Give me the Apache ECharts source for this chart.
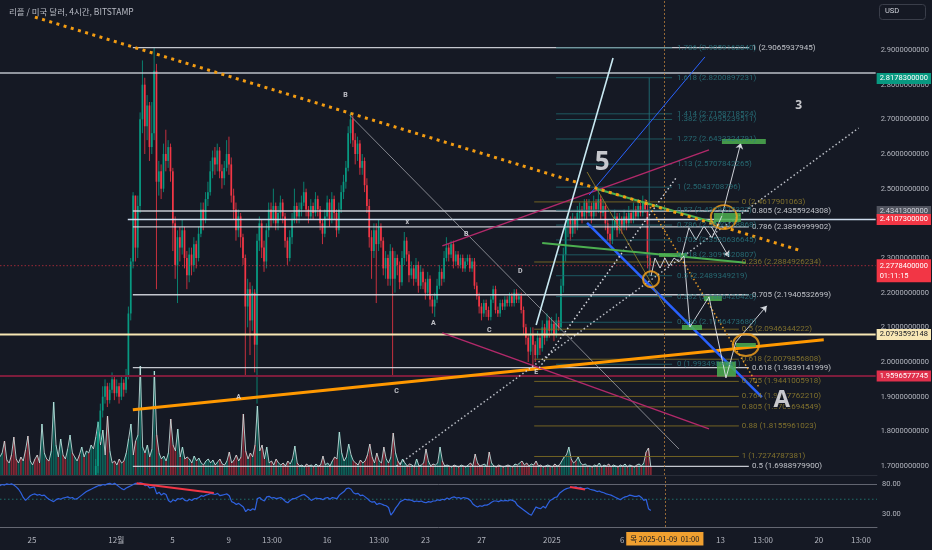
<!DOCTYPE html>
<html><head><meta charset="utf-8">
<script src="https://cdn.jsdelivr.net/npm/echarts@6/dist/echarts.min.js"></script>
<style>html,body{margin:0;padding:0;background:#151924;}#c{width:932px;height:550px;}</style>
</head><body><div id="c"></div>
<script>
// ---------- DATA ----------
// time unit: days since 2024-11-25 00:00 (KST); 4h candles
const firstCandleDay = -2.2917;      // 2024-11-22 17:00
const candleStepDays = 1 / 6;
const firstOpen = 1.50;
const closes = [
1.52,1.55,1.50,1.47,1.51,1.49, 1.46,1.43,1.45,1.41,1.44,1.42, 1.40,1.43,1.47,1.44,1.41,1.39,
1.42,1.45,1.40,1.37,1.41,1.43, 1.46,1.44,1.48,1.45,1.43,1.46, 1.50,1.48,1.52,1.55,1.53,1.57,
1.55,1.58,1.56,1.60,1.64,1.70, 1.80,1.86,
1.90,1.93,1.89,1.92,1.95,1.91, 1.93,1.90,1.94,1.92,1.96,2.14, 2.29,2.48,2.33,2.45,2.70,2.80,
2.68,2.74,2.62,2.66,2.84,2.52, 2.55,2.50,2.60,2.58,2.62,2.55, 2.40,2.28,2.36,2.33,2.38,2.30,
2.25,2.31,2.28,2.34,2.30,2.37, 2.44,2.41,2.47,2.49,2.55,2.59, 2.57,2.61,2.55,2.53,2.56,2.60,
2.57,2.48,2.44,2.38,2.42,2.36, 2.30,2.16,2.21,2.12,2.20,2.05, 2.35,2.40,2.33,2.29,2.38,2.44,
2.41,2.45,2.40,2.43,2.46,2.42, 2.35,2.30,2.36,2.41,2.45,2.42, 2.44,2.46,2.49,2.44,2.42,2.45,
2.43,2.47,2.44,2.40,2.37,2.42, 2.46,2.41,2.47,2.43,2.38,2.44, 2.49,2.52,2.56,2.66,2.70,2.64,
2.60,2.63,2.56,2.58,2.51,2.45, 2.36,2.32,2.38,2.34,2.39,2.35, 2.27,2.30,2.24,2.32,2.24,2.30,
2.28,2.23,2.30,2.35,2.31,2.25, 2.27,2.24,2.28,2.22,2.26,2.23, 2.20,2.24,2.18,2.16,2.18,2.22,
2.26,2.24,2.30,2.33,2.31,2.34, 2.29,2.31,2.28,2.30,2.27,2.29, 2.30,2.27,2.29,2.22,2.19,2.16,
2.14,2.17,2.15,2.13,2.18,2.21, 2.15,2.14,2.17,2.16,2.18,2.17, 2.19,2.17,2.20,2.18,2.19,2.15,
2.10,2.07,2.03,2.08,2.05,2.02, 2.07,2.04,2.10,2.07,2.12,2.09, 2.11,2.08,2.12,2.10,2.22,2.31,
2.39,2.41,2.37,2.41,2.39,2.43, 2.44,2.42,2.46,2.43,2.45,2.42, 2.46,2.44,2.47,2.43,2.45,2.40,
2.37,2.35,2.39,2.42,2.38,2.41, 2.39,2.42,2.40,2.43,2.41,2.44, 2.42,2.45,2.43,2.46,2.44,2.30,
2.2778];
const highs = [
1.55,1.57,1.57,1.52,1.53,1.53, 1.51,1.48,1.47,1.47,1.46,1.46, 1.44,1.45,1.49,1.49,1.46,1.43,
1.44,1.47,1.47,1.42,1.43,1.46, 1.48,1.48,1.50,1.50,1.47,1.48, 1.52,1.52,1.54,1.57,1.57,1.59,
1.60,1.60,1.60,1.62,1.66,1.72, 1.83,1.88,
1.93,1.95,1.94,1.94,1.97,1.96, 1.95,1.94,1.96,1.95,1.98,2.16, 2.30,2.49,2.47,2.48,2.72,2.87,
2.82,2.77,2.75,2.75,2.906,2.86, 2.58,2.57,2.63,2.67,2.64,2.63, 2.56,2.42,2.38,2.39,2.41,2.39,
2.32,2.33,2.33,2.36,2.35,2.39, 2.46,2.46,2.49,2.52,2.58,2.61, 2.62,2.63,2.62,2.57,2.58,2.64,
2.65,2.59,2.50,2.46,2.44,2.43, 2.37,2.31,2.24,2.23,2.22,2.21, 2.37,2.42,2.41,2.35,2.40,2.46,
2.46,2.50,2.46,2.45,2.48,2.47, 2.43,2.36,2.38,2.43,2.50,2.46, 2.46,2.48,2.52,2.50,2.45,2.47,
2.46,2.49,2.48,2.45,2.41,2.44, 2.48,2.47,2.49,2.48,2.44,2.46, 2.51,2.54,2.58,2.68,2.72,2.71,
2.66,2.65,2.64,2.60,2.59,2.53, 2.47,2.38,2.40,2.40,2.41,2.40, 2.36,2.32,2.31,2.34,2.33,2.32,
2.31,2.29,2.32,2.375,2.36,2.32, 2.29,2.28,2.30,2.29,2.28,2.27, 2.24,2.26,2.25,2.19,2.20,2.24,
2.28,2.27,2.32,2.36,2.34,2.35, 2.35,2.32,2.32,2.31,2.31,2.30, 2.31,2.31,2.30,2.30,2.23,2.20,
2.17,2.18,2.18,2.16,2.19,2.22, 2.22,2.16,2.18,2.18,2.19,2.19, 2.20,2.20,2.21,2.21,2.20,2.20,
2.16,2.11,2.08,2.10,2.10,2.06, 2.09,2.08,2.12,2.11,2.14,2.13, 2.13,2.12,2.14,2.13,2.24,2.33,
2.41,2.43,2.42,2.43,2.42,2.45, 2.46,2.45,2.47,2.47,2.47,2.46, 2.48,2.47,2.50,2.48,2.47,2.46,
2.41,2.39,2.41,2.44,2.43,2.43, 2.42,2.44,2.43,2.45,2.44,2.46, 2.45,2.47,2.46,2.48,2.47,2.46,
2.31];
const lows = [
1.48,1.50,1.48,1.45,1.45,1.47, 1.44,1.41,1.41,1.39,1.39,1.40, 1.38,1.38,1.41,1.42,1.39,1.37,
1.37,1.40,1.38,1.34,1.35,1.39, 1.41,1.42,1.42,1.43,1.41,1.41, 1.44,1.46,1.46,1.50,1.51,1.51,
1.53,1.53,1.54,1.54,1.58,1.62, 1.68,1.77,
1.84,1.88,1.87,1.88,1.91,1.89, 1.90,1.88,1.89,1.90,1.91,1.95, 2.12,2.27,2.29,2.30,2.43,2.66,
2.60,2.64,2.58,2.60,2.64,2.21, 2.48,2.47,2.49,2.55,2.56,2.52, 2.32,2.24,2.17,2.29,2.31,2.27,
2.21,2.23,2.25,2.26,2.27,2.29, 2.36,2.38,2.40,2.45,2.48,2.53, 2.54,2.55,2.53,2.50,2.51,2.55,
2.54,2.46,2.41,2.35,2.36,2.33, 2.28,1.96,2.10,2.02,2.09,1.97, 1.88,2.32,2.30,2.26,2.27,2.36,
2.39,2.40,2.38,2.38,2.41,2.40, 2.33,2.28,2.29,2.34,2.40,2.40, 2.40,2.42,2.45,2.42,2.40,2.41,
2.41,2.42,2.42,2.38,2.34,2.36, 2.41,2.39,2.40,2.41,2.36,2.37, 2.43,2.47,2.50,2.55,2.63,2.62,
2.57,2.58,2.54,2.54,2.49,2.43, 2.33,2.24,2.30,2.17,2.32,2.33, 2.25,2.24,2.22,2.22,1.957,2.20,
2.25,2.21,2.22,2.28,2.29,2.23, 2.24,2.22,2.23,2.20,2.21,2.21, 2.18,2.19,2.16,2.14,2.13,2.17,
2.21,2.22,2.23,2.29,2.29,2.30, 2.27,2.28,2.27,2.27,2.26,2.26, 2.28,2.26,2.26,2.21,2.18,2.14,
2.12,2.13,2.13,2.12,2.12,2.17, 2.14,2.13,2.13,2.15,2.15,2.16, 2.16,2.16,2.16,2.17,2.17,2.14,
2.08,2.05,2.00,2.02,1.99,2.00, 2.01,2.02,2.03,2.05,2.06,2.07, 2.08,2.06,2.07,2.09,2.09,2.20,
2.29,2.36,2.35,2.36,2.37,2.38, 2.41,2.40,2.41,2.41,2.42,2.40, 2.41,2.42,2.43,2.41,2.42,2.38,
2.35,2.33,2.34,2.38,2.36,2.37, 2.37,2.38,2.38,2.39,2.40,2.40, 2.41,2.41,2.42,2.42,2.43,2.27,
2.26];
const volumes = [
18,22,34,15,12,20, 38,16,12,18,14,25, 39,14,10,16,20,12, 51,22,16,14,24,73, 30,18,36,20,16,26,
40,22,18,14,20,28, 18,24,22,30,26,38, 53,30,45,20,59,24, 12,14,10,16,12,14, 22,36,51,20,34,40,
109,28,22,30,18,26, 104,40,22,16,19,14, 22,56,30,24,46,18, 28,16,18,16,12,19, 14,17,12,10,14,16,
12,15,10,13,16,11, 10,14,23,12,15,20, 14,18,61,24,16,22, 18,30,69,24,30,16, 28,12,14,10,16,12,
10,12,9,14,11,16, 29,12,9,10,8,11, 9,10,8,11,9,10, 19,10,12,9,14,18, 16,43,22,14,18,31,
20,14,12,10,15,12, 14,20,31,18,12,22, 14,12,28,16,12,18, 42,22,14,10,16,12, 9,11,10,8,16,9,
10,12,26,14,9,11, 10,12,28,14,9,10, 9,8,10,9,8,10, 9,8,10,12,9,21, 12,9,10,11,8,23,
12,9,8,10,9,8, 9,10,9,8,11,10, 12,14,10,12,9,11, 10,14,9,10,8,9, 10,9,8,11,9,10,
14,18,20,28,16,12, 14,18,12,10,11,9, 9,8,10,9,12,8, 10,9,11,8,10,9, 8,10,9,11,8,10,
9,8,10,11,9,12, 23,27,8];
const rsi = [
78,80,79,81,80,81, 79,76,72,66,58,53, 57,61,63,64,62,63, 61,62,58,55,53,51, 54,56,55,57,58,59,
57,58,55,56,59,62, 65,68,70,72,74,76, 78,78,80,79,81,82, 80,82,79,76,73,71, 74,76,78,80,82,81,
83,82,78,79,74,75, 76,64,67,62,65,63, 53,50,54,52,56,55, 57,53,52,55,53,56, 56,58,61,60,62,63,
65,64,63,65,61,62, 63,64,61,51,49,46, 48,45,42,34,38,36, 39,37,56,58,54,52, 59,60,57,58,56,57,
58,55,51,49,53,56, 56,58,60,62,63,60, 57,53,55,57,56,56, 54,57,58,55,58,57, 56,62,65,68,73,74,
72,66,64,65,61,62, 59,56,52,50,51,46, 48,47,45,44,41,28, 33,40,45,51,53,55, 54,54,53,51,52,51,
52,50,49,51,50,52, 52,54,53,55,54,57, 55,58,59,57,58,56, 58,57,56,53,47,44, 42,44,43,45,45,47,
50,52,52,51,53,52, 53,52,54,53,51,45, 42,39,36,33,30,28, 35,42,40,39,43,40, 47,53,55,58,59,65,
68,71,73,74,75,75, 76,74,75,73,73,74, 72,71,70,68,69,67, 66,64,63,62,60,58, 56,54,57,59,60,62,
61,60,60,61,58,53, 55,39,36];

const priceTicks = [1.7,1.8,1.9,2.0,2.1,2.2,2.3,2.4,2.5,2.6,2.7,2.8,2.9];
const rsiTicks = [30, 80];
const xTickDays   = [0, 6, 10, 14, 17.08, 21, 24.70, 28, 32, 37, 42, 49, 52.03, 56, 59.0];
const xTickLabels = ['25','12월','5','9','13:00','16','13:00','23','27','2025','6','13','13:00','20','13:00'];
const crosshairDay = 45.042;   // 2025-01-09 01:00
const crosshairText = '목 2025-01-09  01:00';

// drawings: [day, price]
const trendOrangeDotted = [[0.21, 2.995], [54.66, 2.323]];
const trendOrangeSolid  = [[7.19, 1.862], [56.44, 2.064]];
const impulseLine       = [[35.94, 2.107], [41.42, 2.877]];
const blueThick         = [[39.57, 2.401], [52.03, 1.899]];
const blueThin          = [[39.72, 2.482], [47.97, 2.880]];
const magentaUpper      = [[29.25, 2.335], [48.26, 2.612]];
const magentaLower      = [[29.25, 2.084], [48.26, 1.807]];
const grayFromB         = [[22.63, 2.713], [46.12, 1.749]];
const dottedLong        = [[25.98, 1.700], [58.93, 2.675]];
const dottedSteep       = [[36.16, 1.983], [45.91, 2.531]];
const orangeSmallDotted = [[43.77, 2.467], [51.81, 1.928]];
const oliveThin         = [[39.57, 2.548], [45.05, 2.164]];
const greenLine         = [[36.37, 2.343], [50.89, 2.286]];
const greenFromPeak     = [[40.28, 2.499], [48.75, 2.401]];
const tealVertical      = [[44.0, 2.82], [44.0, 2.25]];
const projPathLow  = [[44.13,2.248],[44.41,2.300],[44.77,2.271],[45.12,2.300],[45.41,2.277],[45.77,2.300],[46.12,2.289],[46.48,2.306],[46.90,2.101],[48.26,2.188],[49.47,1.954],[50.18,2.058]];
const projPathHigh = [[46.33,2.309],[46.83,2.387],[47.33,2.352],[47.90,2.392],[48.47,2.358],[49.18,2.421]];
const projArrows = [
  [[50.18,2.058],[52.38,2.162]],
  [[49.18,2.421],[50.53,2.632]],
  [[48.40,2.392],[49.68,2.303]]
];
// [day1, price1, day2, price2]
const projBoxes = [
  [49.18,2.6433,52.31,2.6290],[48.61,2.4298,50.53,2.4038],[44.70,2.3144,46.69,2.3029],
  [47.90,2.1904,49.18,2.1760],[46.33,2.1067,47.76,2.0923],[48.83,2.0009,50.18,1.9576],
  [50.18,2.0548,51.60,2.0433]
];
const circlePoints = [[49.32,2.418],[44.13,2.239],[50.89,2.049]];
const circleSizes  = [[26,24],[16,16],[26,22]];

const waveText = ['B','x','B','A','C','D','E','C','A'];
const wavePos  = [[22.35,2.770],[26.76,2.404],[30.96,2.369],[28.61,2.1125],[32.6,2.092],[34.8,2.2625],[35.94,1.9712],[25.98,1.9164],[14.73,1.899]];
const bigText = ['5','3','A'];
const bigPos  = [[40.64,2.574],[54.66,2.741],[53.45,1.890]];
const bigSize = [26, 12, 24];

const whiteFibRatios = ['1','0.805','0.786','0.705','0.618','0.5'];
const whiteFibLevels = [2.9065937945,2.4355924308,2.3896999902,2.1940532699,1.9839141999,1.6988979900];
const whiteFibSpan = [7.19, 51.10], whiteFibLabelDay = 51.32;
const oliveFibRatios = ['0','0.236','0.5','0.618','0.705','0.764','0.805','0.88','1'];
const oliveFibLevels = [2.4617901063,2.2884926234,2.0946344222,2.0079856808,1.9441005918,1.9007762210,1.8706694549,1.8155961023,1.7274787381];
const oliveFibSpan = [35.80, 50.39], oliveFibLabelDay = 50.60;
const tealFibRatios = ['1.786','1.618','1.414','1.382','1.272','1.13','1','0.87','0.786','0.702','0.618','0.5','0.382','0.236','0'];
const tealFibLevels = [2.9059162040,2.8200897231,2.7158718524,2.6995239511,2.6433324791,2.5707842265,2.5043708796,2.4379575327,2.3950418868,2.3520636645,2.3091420807,2.2489349219,2.1886426420,2.1146473680,1.9934989641];
const tealFibSpan = [37.36, 45.63], tealFibLabelDay = 45.98;

// horizontal rays [price, startDay]
const hLines = [[2.8337, null], [2.41073, 6.83], [2.0793592148, null], [1.9596577745, null]];
const currentPrice = 2.27784, countdown = '01:11:15';
// price-scale tags
const tagPrices = [2.81783, 2.43413, 2.41073, 2.0793592148, 1.9596577745];
const tagTexts  = ['2.8178300000','2.4341300000','2.4107300000','2.0793592148','1.9596577745'];
const tagColors = ['#089981','#50535e','#f23645','#f7e7b4','#e0304c'];
const tagTextColors = ['#fff','#d1d4dc','#fff','#131722','#fff'];
const rsiRedLines = [[[7.44,82.2],[12.94,65.6]],[[38.29,75.6],[39.36,71.7]]];
const rsiMidLevel = 55, rsiUpper = 80;

// ---------- CHART ----------
const X_MIN = -2.278, X_MAX = 60.14;
const N = Math.min(closes.length, highs.length, lows.length);
const candleData = [], volData = [], volLine = [], rsiData = [];
for (let i = 0; i < N; i++) {
  const x = firstCandleDay + i * candleStepDays;
  const o = i === 0 ? firstOpen : closes[i - 1], c = closes[i];
  candleData.push([x, o, c, Math.min(lows[i], o, c), Math.max(highs[i], o, c)]);
  if (i < volumes.length) { volData.push([x, volumes[i], c >= o ? 1 : 0]); volLine.push([x, volumes[i]]); }
  if (i < rsi.length) rsiData.push([x, rsi[i]]);
}
const FONT = "Roboto, 'Noto Sans', sans-serif";
const series = [];
function seg(data, color, width, type, z, extra) {
  series.push(Object.assign({type:'line', xAxisIndex:0, yAxisIndex:0, data, symbol:'none', silent:true,
    animation:false, z: z || 4, lineStyle:{color, width, type: type || 'solid'}}, extra || {}));
}
function texts(points, labels, labelStyle, z) {
  series.push({type:'scatter', xAxisIndex:0, yAxisIndex:0, symbolSize:0, silent:true, animation:false, z: z || 8,
    data: points.map((p, i) => ({value:[p[0], p[1]], name: labels[i],
      label: Object.assign({}, labelStyle.perItem ? labelStyle.perItem(i) : {})})),
    label: Object.assign({show:true, formatter: p => p.name, fontFamily: FONT}, labelStyle.base)});
}

// volume
series.push({type:'custom', xAxisIndex:1, yAxisIndex:1, data: volData, silent:true, animation:false, z:1, clip:true,
  renderItem(params, api) {
    const x = api.value(0), v = api.value(1), up = api.value(2) === 1;
    const p0 = api.coord([x, 0]), p1 = api.coord([x, v]);
    return {type:'rect', shape:{x:p0[0]-0.9, y:p1[1], width:1.8, height:p0[1]-p1[1]},
      style:{fill: up ? 'rgba(8,153,129,0.55)' : 'rgba(242,54,69,0.5)'}};
  }});
series.push({type:'line', xAxisIndex:1, yAxisIndex:1, data: volLine, symbol:'none', silent:true, animation:false, z:2,
  lineStyle:{color:'rgba(200,228,226,0.85)', width:1}});

// candles
series.push({type:'custom', xAxisIndex:0, yAxisIndex:0, data: candleData, silent:true, animation:false, z:3, clip:true,
  encode:{x:0, y:[1,2,3,4]},
  renderItem(params, api) {
    const x = api.value(0), o = api.value(1), c = api.value(2), l = api.value(3), h = api.value(4);
    const pH = api.coord([x, h]), pL = api.coord([x, l]), pO = api.coord([x, o]), pC = api.coord([x, c]);
    const col = c >= o ? '#089981' : '#f23645';
    const top = Math.min(pO[1], pC[1]), bh = Math.max(Math.abs(pO[1] - pC[1]), 0.8);
    return {type:'group', children:[
      {type:'line', shape:{x1:pH[0], y1:pH[1], x2:pL[0], y2:pL[1]}, style:{stroke:col, lineWidth:0.8}},
      {type:'rect', shape:{x:pO[0]-0.85, y:top, width:1.7, height:bh}, style:{fill:col}}
    ]};
  }});

// fib sets
whiteFibLevels.forEach(v => seg([[whiteFibSpan[0], v],[whiteFibSpan[1], v]], 'rgba(215,218,226,0.9)', 1.3, 'solid', 4));
oliveFibLevels.forEach(v => seg([[oliveFibSpan[0], v],[oliveFibSpan[1], v]], 'rgba(130,112,35,0.85)', 1, 'solid', 4));
tealFibLevels.forEach(v => seg([[tealFibSpan[0], v],[tealFibSpan[1], v]], 'rgba(32,100,108,0.85)', 1, 'solid', 4));
seg(tealVertical, 'rgba(32,110,118,0.9)', 1, 'solid', 4);

// horizontal rays
hLines.forEach((h, i) => {
  const col = ['rgba(205,209,218,0.9)','rgba(215,230,248,0.95)','#f7e7b4','#7d1d3c'][i];
  const w = [1.5, 1.5, 2, 2][i];
  seg([[h[1] === null ? X_MIN : h[1], h[0]], [X_MAX, h[0]]], col, w, 'solid', 4);
});
seg([[X_MIN, currentPrice],[X_MAX, currentPrice]], 'rgba(242,54,69,0.6)', 1, [1.5, 2], 4);

// trend lines
seg(trendOrangeSolid, '#ff9800', 3, 'solid', 5, {
  markLine:{silent:true, symbol:'none', animation:false, precision:10,
    data: tagPrices.map((p, i) => ({yAxis:p, lineStyle:{width:0, color:'transparent'},
      label:{show:true, position:'end', distance:1, formatter: tagTexts[i], color: tagTextColors[i],
        backgroundColor: tagColors[i], padding:[2,3,1,3], fontSize:7.5, fontFamily:FONT}})).concat([
      {yAxis: currentPrice, lineStyle:{width:0, color:'transparent'},
        label:{show:true, position:'end', distance:1, offset:[0, 5], formatter: currentPrice.toFixed(10) + '\n' + countdown,
          color:'#fff', backgroundColor:'#f23645', padding:[2,3,1,3], fontSize:7.5, lineHeight:10, fontFamily:FONT}},
      {xAxis: crosshairDay, lineStyle:{color:'rgba(190,130,60,0.75)', width:1, type:[2,2]}, label:{show:false}}
    ])}
});
seg(trendOrangeDotted, '#f39c12', 3, [3, 4.5], 6);
seg(grayFromB, 'rgba(190,192,198,0.65)', 1, 'solid', 4);
seg(magentaUpper, '#b2296a', 1.5, 'solid', 5);
seg(magentaLower, '#b2296a', 1.5, 'solid', 5);
seg(impulseLine, '#c9e9f2', 1.6, 'solid', 5);
seg(blueThin, '#2962ff', 1, 'solid', 5);
seg(blueThick, '#2962ff', 2.5, 'solid', 5);
seg(dottedLong, 'rgba(215,218,226,0.85)', 1.5, [1.5, 2.5], 5);
seg(dottedSteep, 'rgba(230,232,238,0.9)', 1.5, [1.5, 2.5], 5);
seg(oliveThin, 'rgba(140,120,40,0.9)', 1, 'solid', 5);
seg(orangeSmallDotted, '#e69a28', 1.5, [1.5, 2.5], 5);
seg(greenLine, '#4caf50', 2, 'solid', 5);
seg(greenFromPeak, '#4caf50', 2, 'solid', 5);

// projection boxes
series.push({type:'custom', xAxisIndex:0, yAxisIndex:0, data: projBoxes, silent:true, animation:false, z:6,
  renderItem(params, api) {
    const a = api.coord([api.value(0), api.value(1)]), b = api.coord([api.value(2), api.value(3)]);
    return {type:'rect', shape:{x:a[0], y:a[1], width:b[0]-a[0], height:b[1]-a[1]}, style:{fill:'rgba(76,175,80,0.85)'}};
  }});
// projection paths
seg(projPathLow, 'rgba(225,228,235,0.9)', 1, 'solid', 7);
seg(projPathHigh, 'rgba(225,228,235,0.9)', 1, 'solid', 7, {
  markLine:{silent:true, animation:false, symbol:['none','arrow'], symbolSize:6,
    lineStyle:{color:'rgba(225,228,235,0.9)', width:1, type:'solid'}, label:{show:false},
    data: projArrows.map(a => [{coord:a[0]},{coord:a[1]}])}
});
// circles
series.push({type:'scatter', xAxisIndex:0, yAxisIndex:0, silent:true, animation:false, z:8,
  data: circlePoints.map((p, i) => ({value:p, symbolSize: circleSizes[i]})),
  itemStyle:{color:'rgba(0,0,0,0)', borderColor:'#f7a21b', borderWidth:2}});

// labels
texts(whiteFibLevels.map(v => [whiteFibLabelDay, v]), whiteFibRatios.map((r, i) => r + ' (' + whiteFibLevels[i].toFixed(10) + ')'),
  {base:{position:'right', distance:0, color:'#e6e8ee', fontSize:8}});
texts(oliveFibLevels.map(v => [oliveFibLabelDay, v]), oliveFibRatios.map((r, i) => r + ' (' + oliveFibLevels[i].toFixed(10) + ')'),
  {base:{position:'right', distance:0, color:'#9a8630', fontSize:8}});
texts(tealFibLevels.map(v => [tealFibLabelDay, v]), tealFibRatios.map((r, i) => r + ' (' + tealFibLevels[i].toFixed(10) + ')'),
  {base:{position:'right', distance:0, color:'#2a7c84', fontSize:8}});
texts(wavePos, waveText, {base:{position:'inside', color:'#e8e9ee', fontSize:7, fontWeight:'bold'}});
texts(bigPos, bigText, {base:{position:'inside', color:'#f2f3f6', fontWeight:'bold', fontFamily:"'Open Sans', sans-serif"},
  perItem: i => ({fontSize: bigSize[i], textBorderColor: '#131722', textBorderWidth: i === 2 ? 2 : 0})});

// RSI
series.push({type:'line', xAxisIndex:2, yAxisIndex:2, data:[[X_MIN, rsiUpper],[X_MAX, rsiUpper]], symbol:'none', silent:true, animation:false,
  lineStyle:{color:'rgba(120,123,134,0.8)', width:1}});
series.push({type:'line', xAxisIndex:2, yAxisIndex:2, data:[[X_MIN, rsiMidLevel],[X_MAX, rsiMidLevel]], symbol:'none', silent:true, animation:false,
  lineStyle:{color:'rgba(38,166,154,0.6)', width:1, type:[1.5,2.5]}});
rsiRedLines.forEach(l => series.push({type:'line', xAxisIndex:2, yAxisIndex:2, data:l, symbol:'none', silent:true, animation:false, z:6,
  lineStyle:{color:'#f23645', width:2}}));
series.push({type:'line', xAxisIndex:2, yAxisIndex:2, data: rsiData, symbol:'none', silent:true, animation:false, z:5,
  lineStyle:{color:'#2f62e0', width:1.2},
  markLine:{silent:true, symbol:'none', animation:false,
    data:[{xAxis: crosshairDay, lineStyle:{color:'rgba(190,130,60,0.75)', width:1, type:[2,2]},
      label:{show:true, position:'start', distance:5, formatter: crosshairText, color:'#131722', backgroundColor:'#f0a030',
        padding:[3,4,3,4], fontSize:7.5, fontFamily:"'Noto Sans CJK KR', sans-serif"}}]}});

const axisText = {color:'#b2b5be', fontSize:7.5, fontFamily:FONT};
const option = {
  backgroundColor:'#151924',
  animation:false,
  title:{text:'리플 / 미국 달러, 4시간, BITSTAMP', left:4, top:3,
    textStyle:{color:'#b8bbc4', fontSize:8.5, fontWeight:'normal', fontFamily:"'Noto Sans CJK KR', sans-serif"}},
  grid:[
    {left:0, right:55, top:0, height:475},
    {left:0, right:55, top:360, height:115},
    {left:0, right:55, top:477, height:50}
  ],
  xAxis:[
    {gridIndex:0, type:'value', min:X_MIN, max:X_MAX, show:false},
    {gridIndex:1, type:'value', min:X_MIN, max:X_MAX, axisLabel:{show:false}, axisTick:{show:false}, splitLine:{show:false},
      axisLine:{show:true, lineStyle:{color:'#2a2e39', width:1}}},
    {gridIndex:2, type:'value', min:X_MIN, max:X_MAX, splitLine:{show:false}, axisTick:{show:false},
      axisLine:{show:true, lineStyle:{color:'rgba(120,123,134,0.8)', width:1}},
      axisLabel:Object.assign({customValues: xTickDays, margin:9, fontSize:8,
        formatter: v => { const k = xTickDays.findIndex(d => Math.abs(d - v) < 1e-6); return k >= 0 ? xTickLabels[k] : ''; }}, {color:'#b2b5be', fontFamily:"'Noto Sans CJK KR', sans-serif"})}
  ],
  yAxis:[
    {gridIndex:0, type:'value', position:'right', min:1.67404, max:3.04423, splitLine:{show:false}, axisLine:{show:false},
      axisTick:{show:false}, axisLabel:Object.assign({customValues: priceTicks, margin:5, formatter: v => v.toFixed(10)}, axisText)},
    {gridIndex:1, type:'value', min:0, max:115, show:false},
    {gridIndex:2, type:'value', position:'right', min:7.97, max:92.7, splitLine:{show:false}, axisLine:{show:false},
      axisTick:{show:false}, axisLabel:Object.assign({customValues: rsiTicks, margin:5, formatter: v => v.toFixed(2)}, axisText)}
  ],
  graphic:[
    {type:'rect', left:879, top:4, shape:{width:46, height:15, r:3}, style:{fill:'#151924', stroke:'#3a3e4a', lineWidth:1}, z:100},
    {type:'text', left:885, top:7, style:{text:'USD', fill:'#d1d4dc', fontSize:7.5, fontFamily:FONT}, z:101}
  ],
  series
};
const chart = echarts.init(document.getElementById('c'));
chart.setOption(option);
</script>
</body></html>
